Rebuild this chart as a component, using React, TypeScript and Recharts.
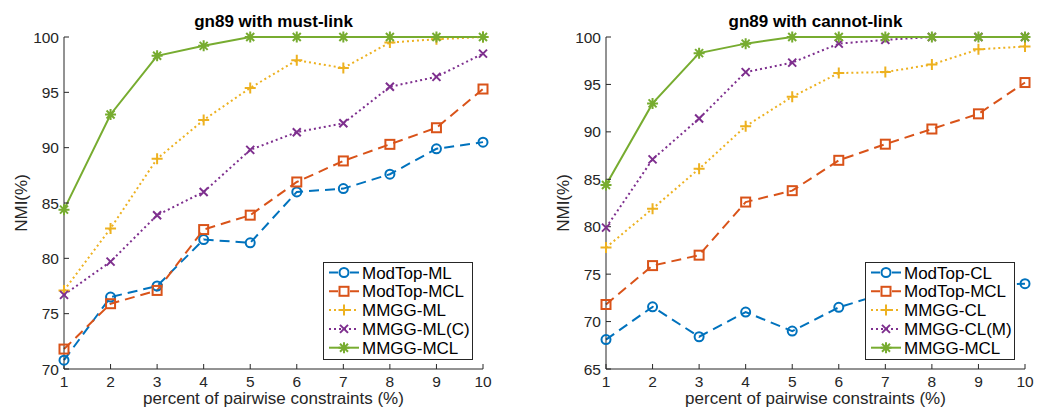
import React from 'react'
import { LineChart, Line, XAxis, YAxis, Legend, Label } from 'recharts'

const pct = [1, 2, 3, 4, 5, 6, 7, 8, 9, 10]

// must-link panel
const mlNames = ['ModTop-ML', 'ModTop-MCL', 'MMGG-ML', 'MMGG-ML(C)', 'MMGG-MCL']
const mlModTop = [70.8, 76.5, 77.5, 81.7, 81.4, 86.0, 86.3, 87.6, 89.9, 90.5]
const mlModTopMcl = [71.8, 75.9, 77.1, 82.6, 83.9, 86.9, 88.8, 90.3, 91.8, 95.3]
const mlMmgg = [77.1, 82.7, 89.0, 92.5, 95.4, 97.9, 97.2, 99.5, 99.8, 100]
const mlMmggC = [76.7, 79.7, 83.9, 86.0, 89.8, 91.4, 92.2, 95.5, 96.4, 98.5]
const mlMmggMcl = [84.4, 93.0, 98.3, 99.2, 100, 100, 100, 100, 100, 100]
const mlTicks = [70, 75, 80, 85, 90, 95, 100]

// cannot-link panel
const clNames = ['ModTop-CL', 'ModTop-MCL', 'MMGG-CL', 'MMGG-CL(M)', 'MMGG-MCL']
const clModTop = [68.1, 71.55, 68.4, 71.0, 69.0, 71.5, 73.0, 73.5, 73.8, 74.0]
const clModTopMcl = [71.8, 75.9, 77.0, 82.6, 83.8, 87.0, 88.7, 90.3, 91.9, 95.2]
const clMmgg = [77.8, 81.9, 86.1, 90.6, 93.7, 96.2, 96.3, 97.1, 98.7, 99.0]
const clMmggM = [79.9, 87.1, 91.4, 96.3, 97.3, 99.3, 99.7, 100, 100, 100]
const clMmggMcl = [84.4, 93.0, 98.3, 99.3, 100, 100, 100, 100, 100, 100]
const clTicks = [65, 70, 75, 80, 85, 90, 95, 100]

const colors = ['#0072BD', '#D95319', '#EDB120', '#7E2F8E', '#77AC30']
const dashes = ['10 6', '10 6', '2 3', '2 3', undefined]
const legendDashes = ['9 12', '9 12', '2 3', '2 3', undefined]
const markers = ['circle', 'square', 'plus', 'cross', 'star']

const axisColor = '#262626'
const font = '"Liberation Sans", Arial, Helvetica, sans-serif'

function Marker({ kind, cx, cy, color }: { kind: string; cx: number; cy: number; color: string }) {
  if (cx == null || cy == null) return null
  const p = { stroke: color, strokeWidth: 2, fill: 'none' }
  if (kind === 'circle') return <circle cx={cx} cy={cy} r={4.5} {...p} />
  if (kind === 'square') return <rect x={cx - 4.5} y={cy - 4.5} width={9} height={9} {...p} />
  if (kind === 'plus')
    return <path d={`M${cx - 5.5},${cy}H${cx + 5.5}M${cx},${cy - 5.5}V${cy + 5.5}`} {...p} />
  if (kind === 'cross')
    return <path d={`M${cx - 4},${cy - 4}L${cx + 4},${cy + 4}M${cx - 4},${cy + 4}L${cx + 4},${cy - 4}`} {...p} />
  return (
    <path
      d={`M${cx - 5.5},${cy}H${cx + 5.5}M${cx},${cy - 5.5}V${cy + 5.5}M${cx - 4},${cy - 4}L${cx + 4},${cy + 4}M${cx - 4},${cy + 4}L${cx + 4},${cy - 4}`}
      {...p}
    />
  )
}

function LegendBox({ names }: { names: string[] }) {
  return (
    <div style={{ width: 150, height: 98, boxSizing: 'border-box', border: `1px solid ${axisColor}`, background: '#fff' }}>
      <svg width={148} height={96} style={{ display: 'block' }}>
        {names.map((n, i) => {
          const y = 9.5 + i * 18.8
          return (
            <g key={n}>
              <line x1={5} x2={35} y1={y} y2={y} stroke={colors[i]} strokeWidth={2} strokeDasharray={legendDashes[i]} />
              <Marker kind={markers[i]} cx={20} cy={y} color={colors[i]} />
              <text x={38} y={y} dy="0.36em" fontSize={17} fill="#000" fontFamily={font}>
                {n}
              </text>
            </g>
          )
        })}
      </svg>
    </div>
  )
}

function Panel({
  title,
  names,
  values,
  ticks,
  left,
  yWidth,
  right,
  legendLeft,
}: {
  title: string
  names: string[]
  values: number[][]
  ticks: number[]
  left: number
  yWidth: number
  right: number
  legendLeft: number
}) {
  const data = pct.map((x, i) => {
    const row: any = { x }
    values.forEach((v, k) => (row['s' + k] = v[i]))
    return row
  })
  const tickStyle = { fill: axisColor, fontSize: 15.5, fontFamily: font }
  return (
    <div style={{ position: 'absolute', left, top: 0, width: 524, height: 410 }}>
      <div
        style={{
          position: 'absolute',
          left: yWidth,
          width: 524 - yWidth - right,
          top: 12,
          height: 20,
          lineHeight: '20px',
          textAlign: 'center',
          fontFamily: font,
          fontWeight: 'bold',
          fontSize: 17,
          color: '#000',
        }}
      >
        {title}
      </div>
      <LineChart width={524} height={410} data={data} margin={{ top: 37, right, bottom: 0, left: 0 }}>
        <XAxis
          dataKey="x"
          type="number"
          domain={[1, 10]}
          ticks={pct}
          height={41}
          stroke={axisColor}
          tick={tickStyle}
          tickSize={-5}
          tickMargin={12}
        >
          <Label
            value="percent of pairwise constraints (%)"
            position="insideBottom"
            offset={6}
            style={{ fill: axisColor, fontSize: 17, fontFamily: font }}
          />
        </XAxis>
        <YAxis
          type="number"
          domain={[ticks[0], 100]}
          ticks={ticks}
          width={yWidth}
          stroke={axisColor}
          tick={tickStyle}
          tickSize={-5}
          tickMargin={10}
        >
          <Label
            content={(p: any) => {
              const vb = p.viewBox
              const cx = vb.x + vb.width - 37
              const cy = vb.y + vb.height / 2
              return (
                <text
                  transform={`translate(${cx},${cy}) rotate(-90)`}
                  textAnchor="middle"
                  fontSize={17}
                  fill={axisColor}
                  fontFamily={font}
                >
                  NMI(%)
                </text>
              )
            }}
          />
        </YAxis>
        {values.map((_, k) => (
          <Line
            key={k}
            dataKey={'s' + k}
            name={names[k]}
            stroke={colors[k]}
            strokeWidth={2}
            strokeDasharray={dashes[k]}
            isAnimationActive={false}
            dot={(p: any) => <Marker key={p.index} kind={markers[k]} cx={p.cx} cy={p.cy} color={colors[k]} />}
            activeDot={false}
          />
        ))}
        <Legend
          layout="vertical"
          align="center"
          verticalAlign="middle"
          wrapperStyle={{ left: legendLeft, top: 262, width: 150, height: 98 }}
          content={() => <LegendBox names={names} />}
        />
      </LineChart>
    </div>
  )
}

export default function App() {
  return (
    <div style={{ position: 'absolute', left: 0, top: 0, width: 1048, height: 410, background: '#fff' }}>
      <Panel
        title="gn89 with must-link"
        names={mlNames}
        values={[mlModTop, mlModTopMcl, mlMmgg, mlMmggC, mlMmggMcl]}
        ticks={mlTicks}
        left={0}
        yWidth={64}
        right={41}
        legendLeft={323}
      />
      <Panel
        title="gn89 with cannot-link"
        names={clNames}
        values={[clModTop, clModTopMcl, clMmgg, clMmggM, clMmggMcl]}
        ticks={clTicks}
        left={524}
        yWidth={82}
        right={23}
        legendLeft={341}
      />
    </div>
  )
}
